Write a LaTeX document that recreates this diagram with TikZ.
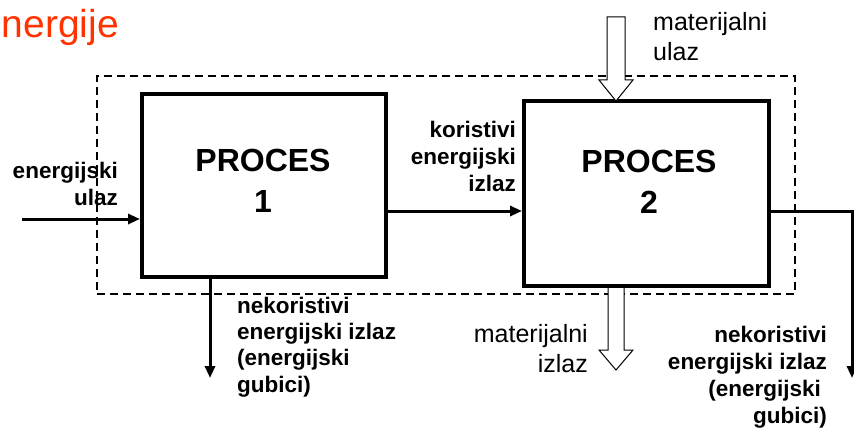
\documentclass[tikz,border=0pt]{standalone}
\usepackage{fontspec}
\setmainfont{Liberation Sans}
\usetikzlibrary{arrows.meta}
\definecolor{titlered}{RGB}{255,51,0}
\begin{document}
\begin{tikzpicture}[x=1pt,y=-1pt,
  procbox/.style={draw, line width=4pt, inner sep=0pt, fill=white},
  proctext/.style={font=\fontsize{32}{41}\selectfont\bfseries, align=center, inner sep=0pt},
  bl/.style={font=\fontsize{22.5}{27}\selectfont\bfseries, inner sep=0pt},
  rl/.style={font=\fontsize{25}{30}\selectfont, inner sep=0pt},
  flow/.style={line width=3pt, -{Triangle[length=12pt,width=10pt]}},
  hollow/.style={draw, line width=1pt, fill=white, line join=miter}]
\useasboundingbox (0,0) rectangle (854,436);

% title fragment
\node[font=\fontsize{39}{42}\selectfont, text=titlered, inner sep=0pt, anchor=base west] (title) at (1.5,38) {nergije};

% system boundary
\node[draw, dashed, line width=1.6pt, dash pattern=on 8pt off 5pt, minimum width=698pt, minimum height=218pt, inner sep=0pt] (sys) at (446,185) {};

% process boxes
\node[procbox, minimum width=244pt, minimum height=183pt] (p1) at (264,185.5) {};
\node[procbox, minimum width=245pt, minimum height=185pt] (p2) at (646.5,193.5) {};
\node[proctext, anchor=base] (p1t) at (263,212) {PROCES\\1};
\node[proctext, anchor=base] (p2t) at (649,213) {PROCES\\2};

% coordinates for free ends
\coordinate (ein) at (22,219);
\coordinate (l1) at (210,378);
\coordinate (l2) at (852,378);

% energy input
\draw[flow] (ein) -- (ein -| p1.west);
% useful energy output
\draw[flow] (p1.east |- 0,211) -- (p2.west |- 0,211);
% losses from process 1
\draw[flow] (p1.south -| l1) -- (l1);
% losses from process 2
\draw[flow] (p2.east |- 0,211) -| (l2);

% material input (hollow arrow)
\draw[hollow] (607,17) -- (607,80) -- (599,80) -- (616,101) -- (633,80) -- (625,80) -- (625,17) -- cycle;
% material output (hollow arrow)
\fill[white] (608,289) rectangle (624,350);
\draw[hollow] (608,288) -- (608,350) -- (599,350) -- (616,370) -- (633,350) -- (624,350) -- (624,288);

% labels
\node[bl, align=right, anchor=base east] (lein) at (118,205) {energijski\\ulaz};
\node[bl, align=right, anchor=base east] (lkor) at (516,191) {koristivi\\energijski\\izlaz};
\node[bl, align=left, anchor=base west, font=\fontsize{22.5}{26.3}\selectfont\bfseries] (lg1) at (237,392) {nekoristivi\\energijski izlaz\\(energijski\\gubici)};
\node[bl, align=right, anchor=base east] (lg2) at (827,423) {nekoristivi\\energijski izlaz\\(energijski\kern6pt\\gubici)};
\node[rl, align=left, anchor=base west, font=\fontsize{25}{29}\selectfont] (lmu) at (653,60) {materijalni\\ulaz};
\node[rl, align=right, anchor=base east] (lmi) at (588,372) {materijalni\\izlaz};
\end{tikzpicture}
\end{document}
